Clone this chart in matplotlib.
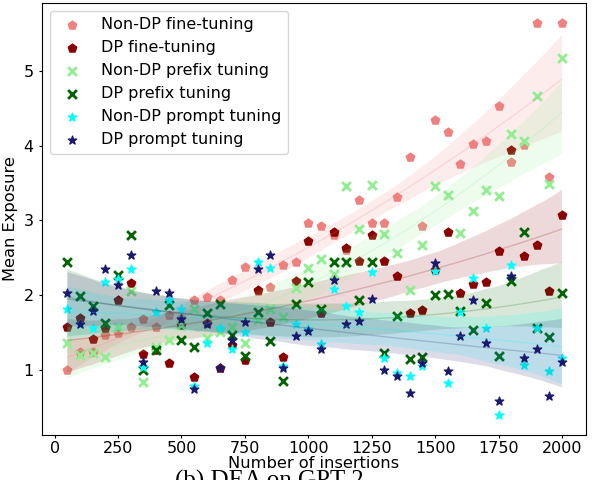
import numpy as np
import matplotlib
matplotlib.use('Agg')
import matplotlib.pyplot as plt
import seaborn as sns

# number of inserted canaries
insertions = list(range(50, 2001, 50))

# mean exposure
nondp_fine = [1.00, 1.24, 1.24, 1.46, 1.49, 1.57, 1.68, 1.58, 1.74, 1.70,
              1.94, 1.97, 1.94, 2.20, 2.38, 2.05, 2.11, 2.40, 2.44, 2.97,
              2.93, 2.80, 2.60, 3.27, 2.97, 2.97, 3.31, 3.85, 2.93, 4.35,
              4.19, 3.75, 4.02, 4.06, 4.53, 3.79, 4.01, 5.65, 3.58, 5.65]
dp_fine = [1.57, 1.69, 1.41, 1.56, 1.94, 2.16, 1.21, 1.27, 1.09, 1.60,
           0.91, 1.63, 1.02, 1.33, 1.13, 2.07, 1.64, 1.17, 2.19, 2.72,
           1.76, 2.85, 2.63, 2.46, 2.80, 2.46, 2.25, 1.76, 1.80, 2.34,
           2.85, 2.03, 2.15, 2.18, 2.59, 3.94, 2.53, 2.67, 2.06, 3.07]
nondp_prefix = [1.36, 1.20, 1.22, 1.17, 1.58, 2.05, 0.84, 1.30, 1.40, 1.60,
                1.81, 1.42, 1.50, 1.58, 1.36, 1.67, 1.82, 1.71, 2.10, 2.36,
                2.48, 2.29, 3.46, 2.88, 3.47, 2.82, 2.56, 2.07, 2.67, 3.46,
                3.34, 2.83, 3.13, 3.41, 3.33, 4.16, 4.07, 4.67, 3.49, 5.18]
dp_prefix = [2.44, 1.99, 1.86, 1.63, 2.27, 2.80, 1.00, 1.26, 1.87, 1.40,
             1.31, 1.76, 1.88, 1.47, 1.18, 1.77, 1.38, 0.85, 1.88, 2.18,
             1.82, 2.44, 2.45, 1.94, 2.45, 1.22, 1.72, 1.14, 1.17, 2.00,
             2.02, 1.79, 1.53, 1.89, 1.19, 2.19, 2.84, 1.56, 1.44, 2.03]
nondp_prompt = [1.81, 1.62, 1.56, 2.17, 2.21, 2.35, 1.04, 1.77, 1.93, 1.82,
                0.78, 1.36, 1.56, 1.28, 1.51, 2.45, 2.37, 1.05, 1.61, 1.55,
                1.34, 2.08, 1.86, 1.78, 2.31, 1.16, 0.96, 0.92, 1.05, 2.33,
                0.82, 1.77, 2.23, 1.56, 0.39, 2.41, 1.06, 1.56, 0.99, 1.16]
dp_prompt = [2.03, 1.62, 1.79, 2.35, 2.14, 2.54, 1.11, 2.06, 2.03, 1.68,
             0.74, 1.62, 1.02, 1.40, 1.64, 2.35, 2.54, 1.02, 1.45, 1.52,
             1.28, 2.20, 1.61, 1.65, 1.95, 1.00, 0.92, 0.69, 1.09, 2.43,
             0.99, 1.45, 1.94, 1.36, 0.58, 2.26, 1.16, 1.28, 0.65, 1.11]

series = [
    ('Non-DP fine-tuning', nondp_fine, 'lightcoral', 'p'),
    ('DP fine-tuning', dp_fine, 'darkred', 'p'),
    ('Non-DP prefix tuning', nondp_prefix, 'lightgreen', 'x'),
    ('DP prefix tuning', dp_prefix, 'darkgreen', 'x'),
    ('Non-DP prompt tuning', nondp_prompt, 'cyan', '*'),
    ('DP prompt tuning', dp_prompt, 'midnightblue', '*'),
]

fig = plt.figure(figsize=(5.94, 4.8), dpi=100)
ax = fig.add_axes([42 / 594, 45 / 480, 544 / 594, 432 / 480])

x = np.array(insertions)
for label, vals, col, mk in series:
    sns.regplot(x=x, y=np.array(vals), ax=ax, order=2, color=col, marker=mk,
                label=label, seed=0,
                scatter_kws={'s': 40, 'alpha': 1, 'linewidths': 2 if mk == 'x' else 1},
                line_kws={'alpha': 0.2, 'lw': 1})

ax.set_xlim(-50, 2095)
ax.set_ylim(0.127, 5.913)
ax.set_xticks(range(0, 2001, 250))
ax.set_yticks([1, 2, 3, 4, 5])
ax.tick_params(labelsize=11.5, length=2.5)
ax.tick_params(axis='x', pad=1.5)
ax.set_xlabel('Number of insertions', fontsize=11.7, labelpad=0)
ax.set_ylabel('Mean Exposure', fontsize=11.7)
ax.legend(loc='upper left', fontsize=11.5, borderaxespad=0.5)

# sub-figure caption, cut off by the bottom edge like in the paper crop
fig.text(175 / 594, 1 - 488 / 480, '(b) DEA on GPT-2', fontsize=18,
         family='Liberation Serif', va='baseline', ha='left')

fig.savefig('out.png', dpi=100)
